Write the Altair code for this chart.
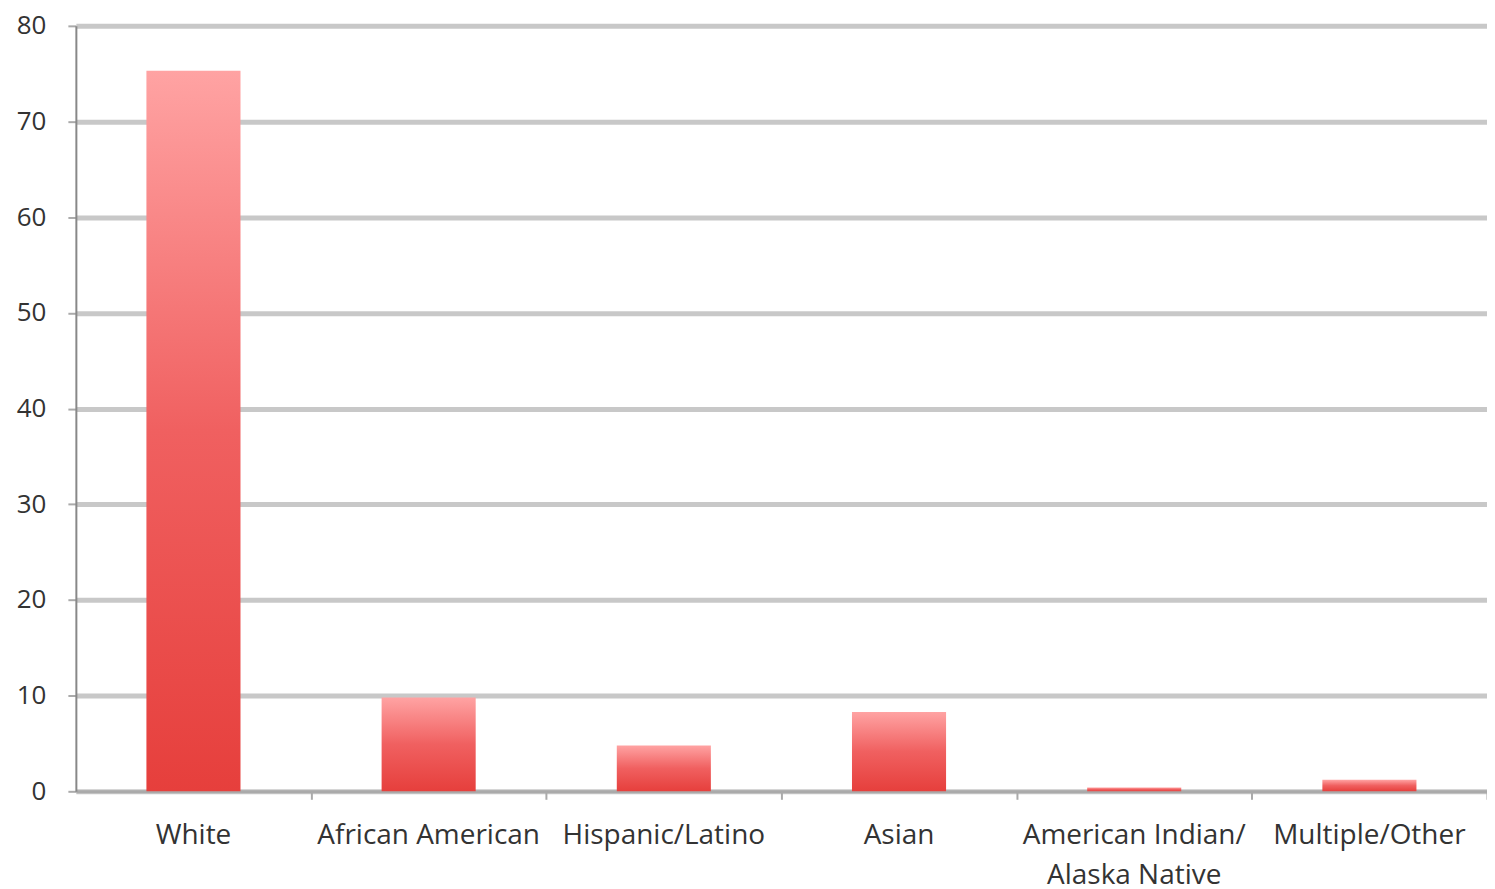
import altair as alt
import pandas as pd

categories = ["White", "African American", "Hispanic/Latino", "Asian",
              "American Indian/ Alaska Native", "Multiple/Other"]
values = [75.3, 9.8, 4.8, 8.3, 0.4, 1.2]

df = pd.DataFrame({"cat": categories, "val": values})

grad = alt.Gradient(
    gradient="linear",
    stops=[alt.GradientStop(color="#ffa3a3", offset=0),
           alt.GradientStop(color="#f06060", offset=0.5),
           alt.GradientStop(color="#e63f3c", offset=1)],
    x1=0, x2=0, y1=0, y2=1,
)

W = 1414
step = W / 6
xscale = alt.Scale(paddingInner=0.6, paddingOuter=0.3)
yscale = alt.Scale(domain=[0, 80], nice=False)
yaxis = alt.Axis(values=list(range(0, 81, 10)), labelFontSize=26,
                 labelFont="Open Sans", labelColor="#333333",
                 labelPadding=22, tickSize=8, tickColor="#aaaaaa",
                 tickWidth=2, domainColor="#888888", domainWidth=2,
                 gridColor="#c8c8c8", gridWidth=5)

bars = alt.Chart(df).mark_bar(color=grad).encode(
    x=alt.X("cat:N", sort=categories, title=None, scale=xscale,
            axis=alt.Axis(labelAngle=0, labelFontSize=28, labelFont="Open Sans",
                          labelColor="#333333", labelPadding=30, labelLimit=400,
                          ticks=False, domainColor="#aaaaaa", domainWidth=3,
                          orient="bottom",
                          labelExpr="datum.label == 'American Indian/ Alaska Native' ? ['American Indian/', 'Alaska Native'] : datum.label",
                          labelLineHeight=40)),
    y=alt.Y("val:Q", title=None, scale=yscale, axis=yaxis),
)

ticks = alt.Chart(df).mark_bar(opacity=0).encode(
    x=alt.X("cat:N", sort=categories, title=None, scale=xscale,
            axis=alt.Axis(labels=False, orient="bottom", domain=False,
                          tickOffset=step / 2, tickSize=8, tickColor="#aaaaaa",
                          tickWidth=2)),
    y=alt.Y("val:Q", title=None, scale=yscale, axis=yaxis),
)

chart = alt.layer(bars, ticks).resolve_axis(x="independent").properties(
    width=W, height=767,
    autosize=alt.AutoSizeParams(type="none"),
    padding={"left": 68, "top": 17, "right": 0, "bottom": 100},
).configure_view(stroke=None)

chart.save("out.html", embed_options={"renderer": "svg", "actions": False})
